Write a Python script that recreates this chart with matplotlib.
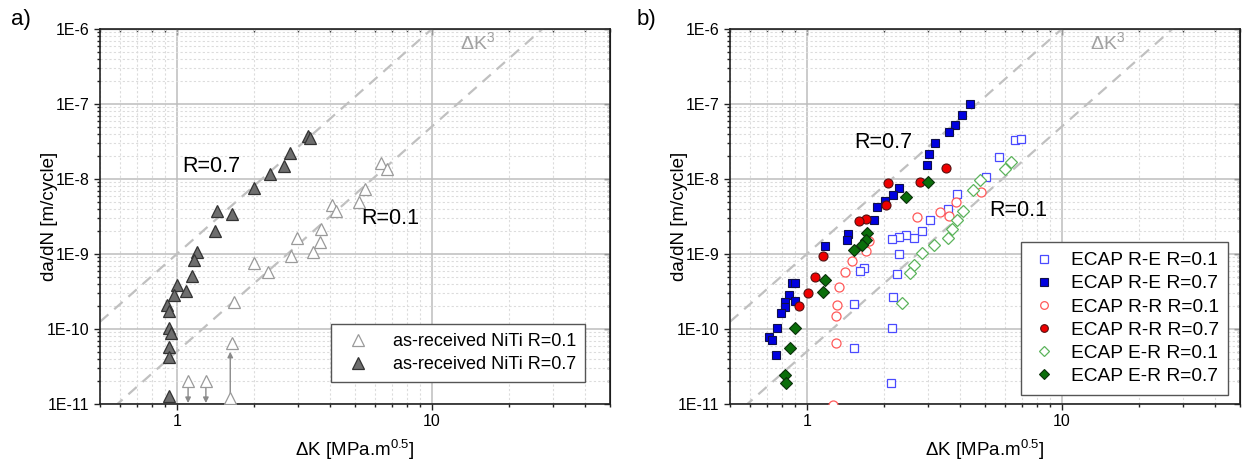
import numpy as np
import matplotlib

matplotlib.use("Agg")
import matplotlib.pyplot as plt
from matplotlib.ticker import FixedLocator, FuncFormatter, NullFormatter

plt.rcParams["font.family"] = ["Liberation Sans", "DejaVu Sans"]
plt.rcParams["mathtext.fontset"] = "custom"
plt.rcParams["mathtext.rm"] = "Liberation Sans"
plt.rcParams["mathtext.it"] = "Liberation Sans:italic"

# --- a) as-received NiTi ---------------------------------------------------
ar_r01_dk = [6.33, 6.68, 5.45, 5.17, 4.06, 4.21, 3.69, 2.97, 3.65, 3.42, 2.80, 2.00,
             2.28, 1.67, 1.65, 1.107, 1.30, 1.62]
ar_r01_dadn = [1.65e-8, 1.36e-8, 7.3e-9, 4.98e-9, 4.5e-9, 3.78e-9, 2.15e-9, 1.62e-9,
               1.46e-9, 1.05e-9, 9.3e-10, 7.66e-10, 5.75e-10, 2.29e-10, 6.56e-11,
               2.03e-11, 2.03e-11, 1.19e-11]
ar_r07_dk = [3.27, 3.32, 2.77, 2.63, 2.32, 2.00, 1.44, 1.64, 1.41, 1.20, 1.166, 1.148,
             1.003, 0.973, 1.082, 0.916, 0.930, 0.930, 0.947, 0.930, 0.936, 0.930]
ar_r07_dadn = [3.74e-8, 3.49e-8, 2.24e-8, 1.49e-8, 1.17e-8, 7.52e-9, 3.74e-9, 3.45e-9,
               2.05e-9, 1.05e-9, 8.24e-10, 5.14e-10, 3.83e-10, 2.84e-10, 3.18e-10,
               2.09e-10, 1.75e-10, 1.04e-10, 8.77e-11, 5.75e-11, 4.2e-11, 1.29e-11]

# run-out / lower-bound arrows: (dK, start, tip)
arrows_dk = [1.107, 1.30, 1.62]
arrows_from = [1.69e-11, 1.69e-11, 1.39e-11]
arrows_to = [1.03e-11, 1.03e-11, 4.97e-11]

# --- b) ECAP routes ---------------------------------------------------------
re_r01_dk = [6.58, 6.95, 5.66, 5.05, 3.88, 3.58, 3.04, 2.82, 2.63, 2.46, 2.31, 2.16,
             2.30, 2.26, 2.18, 2.16, 2.14, 1.67, 1.62, 1.53, 1.53]
re_r01_dadn = [3.31e-8, 3.41e-8, 1.98e-8, 1.07e-8, 6.3e-9, 3.94e-9, 2.84e-9, 2.03e-9,
               1.62e-9, 1.77e-9, 1.7e-9, 1.6e-9, 9.85e-10, 5.41e-10, 2.7e-10, 1.02e-10,
               1.89e-11, 6.6e-10, 5.93e-10, 2.13e-10, 5.53e-11]
re_r07_dk = [4.36, 4.05, 3.83, 3.60, 3.18, 3.01, 2.96, 2.30, 2.18, 2.02, 1.89, 1.84,
             1.45, 1.44, 1.18, 0.876, 0.903, 0.85, 0.818, 0.825, 0.903, 0.793, 0.765,
             0.714, 0.731, 0.754]
re_r07_dadn = [1.0e-7, 7.13e-8, 5.3e-8, 4.27e-8, 3.05e-8, 2.14e-8, 1.54e-8, 7.66e-9,
               6.12e-9, 5.14e-9, 4.28e-9, 2.84e-9, 1.85e-9, 1.54e-9, 1.29e-9, 4.14e-10,
               4.14e-10, 2.84e-10, 2.31e-10, 1.98e-10, 2.38e-10, 1.62e-10, 1.02e-10,
               7.89e-11, 7.13e-11, 4.5e-11]
rr_r01_dk = [4.84, 3.85, 3.60, 3.34, 2.71, 1.75, 1.70, 1.51, 1.41, 1.335, 1.315, 1.30,
             1.30, 1.27]
rr_r01_dadn = [6.71e-9, 4.93e-9, 3.24e-9, 3.67e-9, 3.07e-9, 1.49e-9, 1.09e-9, 8.07e-10,
               5.67e-10, 3.6e-10, 2.09e-10, 1.49e-10, 6.44e-11, 9.7e-12]
rr_r07_dk = [3.50, 2.79, 2.08, 2.04, 1.70, 1.60, 1.16, 1.075, 1.01, 0.93]
rr_r07_dadn = [1.39e-8, 9.2e-9, 8.77e-9, 4.5e-9, 2.93e-9, 2.75e-9, 9.4e-10, 4.93e-10,
               2.99e-10, 2.03e-10]
er_r01_dk = [6.33, 6.01, 4.80, 4.48, 4.09, 3.88, 3.71, 3.58, 3.15, 2.83, 2.63, 2.55, 2.36]
er_r01_dadn = [1.69e-8, 1.35e-8, 9.7e-9, 7.13e-9, 3.78e-9, 2.84e-9, 2.13e-9, 1.62e-9,
               1.32e-9, 1.02e-9, 7.13e-10, 5.64e-10, 2.2e-10]
er_r07_dk = [2.98, 2.44, 1.72, 1.70, 1.65, 1.535, 1.18, 1.16, 0.903, 0.863, 0.82, 0.83]
er_r07_dadn = [9.06e-9, 5.67e-9, 1.9e-9, 1.54e-9, 1.32e-9, 1.13e-9, 4.5e-10, 3.14e-10,
               1.02e-10, 5.53e-11, 2.44e-11, 1.92e-11]

# Paris-type ΔK^3 guide lines: da/dN = C * dK^3
guide_coeffs = [1e-9, 5e-11]

XLIM = (0.5, 50)
YLIM = (1e-11, 1e-6)

# tick positions kept inside the axis limits
x_major = [1, 10]
x_minor = [m * 10.0 ** e for e in (-1, 0, 1) for m in range(2, 10)
           if XLIM[0] <= m * 10.0 ** e <= XLIM[1]]
y_major = [10.0 ** e for e in range(-11, -5)]
y_minor = [m * 10.0 ** e for e in range(-11, -6) for m in range(2, 10)]


def set_log_ticks(axis_x, axis_y):
    if axis_x is not None:
        axis_x.set_major_locator(FixedLocator(x_major))
        axis_x.set_minor_locator(FixedLocator(x_minor))
    if axis_y is not None:
        axis_y.set_major_locator(FixedLocator(y_major))
        axis_y.set_minor_locator(FixedLocator(y_minor))


def style_axes(ax):
    ax.set_xscale("log")
    ax.set_yscale("log")
    ax.set_xlim(*XLIM)
    ax.set_ylim(*YLIM)

    set_log_ticks(ax.xaxis, ax.yaxis)
    ax.xaxis.set_major_formatter(FuncFormatter(lambda v, _: f"{v:g}"))
    ax.xaxis.set_minor_formatter(NullFormatter())
    ax.yaxis.set_major_formatter(FuncFormatter(lambda v, _: f"1E{int(round(np.log10(v)))}"))
    ax.yaxis.set_minor_formatter(NullFormatter())

    ax.grid(True, which="major", color="#bdbdbd", lw=1.1, ls="-")
    ax.grid(True, which="minor", color="#dcdcdc", lw=0.8, ls=(0, (2, 2)))
    ax.set_axisbelow(True)

    ax.tick_params(which="both", direction="out", labelsize=11.5, width=1.0,
                   colors="#222222", labelcolor="black")
    ax.tick_params(which="major", length=4)
    ax.tick_params(which="minor", length=2.5)
    for s in ax.spines.values():
        s.set_linewidth(1.2)
        s.set_color("#222222")

    # mirrored ticks on the top and right frame, pointing inward
    top = ax.secondary_xaxis("top")
    set_log_ticks(top.xaxis, None)
    top.xaxis.set_major_formatter(NullFormatter())
    top.xaxis.set_minor_formatter(NullFormatter())
    top.tick_params(which="both", direction="in", labeltop=False, labelbottom=False,
                    width=1.0, colors="#222222")
    top.tick_params(which="major", length=4)
    top.tick_params(which="minor", length=2.5)
    right = ax.secondary_yaxis("right")
    set_log_ticks(None, right.yaxis)
    right.yaxis.set_major_formatter(NullFormatter())
    right.yaxis.set_minor_formatter(NullFormatter())
    right.tick_params(which="both", direction="in", labelright=False, labelleft=False,
                      width=1.0, colors="#222222")
    right.tick_params(which="major", length=4)
    right.tick_params(which="minor", length=2.5)

    dk = np.logspace(np.log10(XLIM[0]), np.log10(XLIM[1]), 100)
    for c in guide_coeffs:
        ax.plot(dk, c * dk ** 3, color="#c0c0c0", lw=1.6, ls=(0, (5, 3.5)), zorder=1.5)

    ax.text(0.74, 0.965, r"$\Delta$K$^3$", transform=ax.transAxes, ha="center", va="center",
            fontsize=14, color="#a0a0a0")
    ax.set_xlabel(r"$\Delta$K [MPa.m$^{0.5}$]", fontsize=13.5, labelpad=6)
    ax.set_ylabel("da/dN [m/cycle]", fontsize=13.5)
    ax.yaxis.set_label_coords(-0.083, 0.5)


fig = plt.figure(figsize=(12.43, 4.70), dpi=100)
ax_a = fig.add_axes([0.0805, 0.1404, 0.4103, 0.7979])
ax_b = fig.add_axes([0.5873, 0.1404, 0.4103, 0.7979])

for ax in (ax_a, ax_b):
    style_axes(ax)

# a) as-received
ax_a.plot(ar_r01_dk, ar_r01_dadn, ls="none", marker="^", ms=8.5, mfc="white",
          mec="#9a9a9a", mew=0.9, label="as-received NiTi R=0.1", zorder=3)
ax_a.plot(ar_r07_dk, ar_r07_dadn, ls="none", marker="^", ms=8.5, mfc="#6e6e6e",
          mec="#333333", mew=0.9, label="as-received NiTi R=0.7", zorder=3)
for k, y0, y1 in zip(arrows_dk, arrows_from, arrows_to):
    ax_a.annotate("", xy=(k, y1), xytext=(k, y0),
                  arrowprops=dict(arrowstyle="-|>", color="#8a8a8a", lw=1.0,
                                  mutation_scale=8, shrinkA=0, shrinkB=0), zorder=2)

ax_a.text(1.36, 1.45e-8, "R=0.7", fontsize=15.5, ha="center", va="center")
ax_a.text(6.9, 3.02e-9, "R=0.1", fontsize=15.5, ha="center", va="center")
leg_a = ax_a.legend(loc="lower right", bbox_to_anchor=(0.951, 0.058), fontsize=13,
                    frameon=True, fancybox=False, framealpha=1, edgecolor="#555555",
                    handletextpad=0.9, borderpad=0.5, labelspacing=0.35,
                    borderaxespad=0.0)
leg_a.get_frame().set_linewidth(1.0)

# b) ECAP
ax_b.plot(re_r01_dk, re_r01_dadn, ls="none", marker="s", ms=6, mfc="white",
          mec="#4a4aff", mew=0.9, label="ECAP R-E R=0.1", zorder=3)
ax_b.plot(re_r07_dk, re_r07_dadn, ls="none", marker="s", ms=6, mfc="#0000e0",
          mec="#10104a", mew=0.8, label="ECAP R-E R=0.7", zorder=4)
ax_b.plot(rr_r01_dk, rr_r01_dadn, ls="none", marker="o", ms=6.5, mfc="white",
          mec="#ff5a5a", mew=0.9, label="ECAP R-R R=0.1", zorder=3)
ax_b.plot(rr_r07_dk, rr_r07_dadn, ls="none", marker="o", ms=6.5, mfc="#ee0000",
          mec="#551010", mew=0.8, label="ECAP R-R R=0.7", zorder=4)
ax_b.plot(er_r01_dk, er_r01_dadn, ls="none", marker="D", ms=6, mfc="white",
          mec="#5cb45c", mew=0.9, label="ECAP E-R R=0.1", zorder=3)
ax_b.plot(er_r07_dk, er_r07_dadn, ls="none", marker="D", ms=6, mfc="#0a6e0a",
          mec="#0a300a", mew=0.8, label="ECAP E-R R=0.7", zorder=4)

ax_b.text(2.0, 3.11e-8, "R=0.7", fontsize=15.5, ha="center", va="center")
ax_b.text(6.72, 3.86e-9, "R=0.1", fontsize=15.5, ha="center", va="center")
leg_b = ax_b.legend(loc="lower right", bbox_to_anchor=(0.977, 0.025), fontsize=13.8,
                    frameon=True, fancybox=False, framealpha=1, edgecolor="#555555",
                    handlelength=1.4, handletextpad=0.7, borderpad=0.5, labelspacing=0.3,
                    borderaxespad=0.0, markerscale=0.85)
leg_b.get_frame().set_linewidth(1.0)

fig.text(21 / 1243, 1 - 20 / 470, "a)", fontsize=16, ha="center", va="center")
fig.text(646 / 1243, 1 - 20 / 470, "b)", fontsize=16, ha="center", va="center")

fig.savefig("out.png", dpi=100)
